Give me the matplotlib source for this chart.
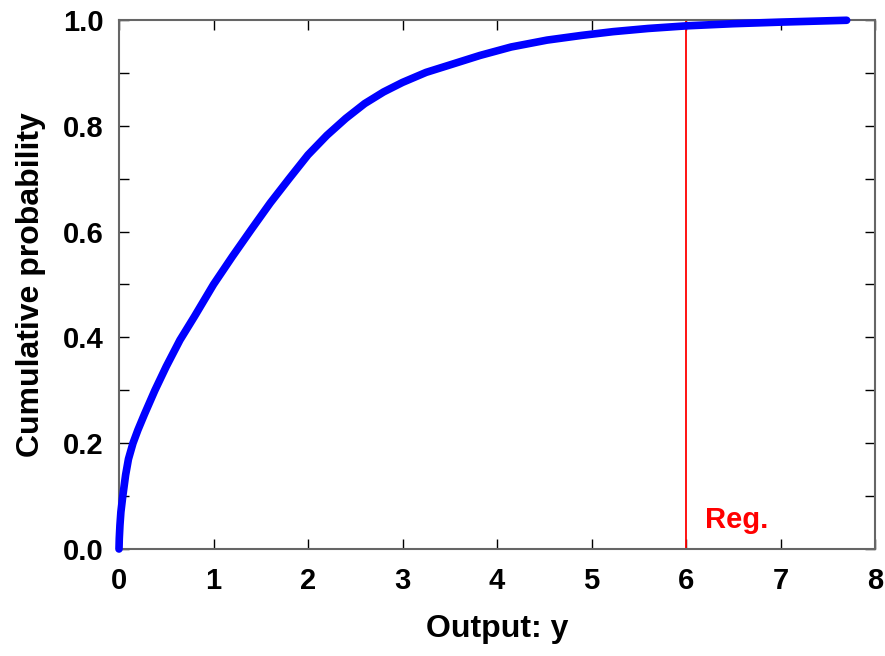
import matplotlib
matplotlib.use("Agg")
import matplotlib.pyplot as plt
from matplotlib.ticker import MultipleLocator

output_y = [0, 0.003, 0.01, 0.02, 0.04, 0.07, 0.10, 0.148, 0.20, 0.27, 0.38, 0.50,
            0.645, 0.80, 1.00, 1.20, 1.40, 1.60, 1.80, 2.00, 2.20, 2.40, 2.60, 2.80,
            3.00, 3.25, 3.50, 3.82, 4.15, 4.53, 4.90, 5.23, 5.60, 6.01, 6.50, 7.00,
            7.40, 7.70]
cum_prob = [0, 0.02, 0.045, 0.07, 0.10, 0.14, 0.17, 0.20, 0.225, 0.255, 0.30, 0.345,
            0.395, 0.44, 0.50, 0.553, 0.604, 0.654, 0.70, 0.745, 0.782, 0.814, 0.842, 0.864,
            0.882, 0.901, 0.915, 0.933, 0.949, 0.962, 0.971, 0.978, 0.984, 0.989, 0.993, 0.996,
            0.998, 0.9995]
reg_value = 6.0
reg_label = "Reg."
x_ticks = [0, 1, 2, 3, 4, 5, 6, 7, 8]
y_ticks = [0.0, 0.2, 0.4, 0.6, 0.8, 1.0]

plt.rcParams['font.family'] = ['Liberation Sans', 'DejaVu Sans']
plt.rcParams['font.weight'] = 'bold'

fig = plt.figure(figsize=(8.85, 6.56), dpi=100)
ax = fig.add_axes([119/885, 1-549/656, (875-119)/885, (549-20)/656])

ax.plot(output_y, cum_prob, color='#0000ff', lw=5.5, solid_capstyle='round',
        solid_joinstyle='round', clip_on=False, zorder=3)
ax.axvline(reg_value, color='#ff0000', lw=1.3, zorder=2)
ax.text(reg_value + 0.20, 0.039, reg_label, color='#ff0000', fontsize=21,
        fontweight='bold', ha='left', va='baseline')

ax.set_xlim(0, 8)
ax.set_ylim(0, 1)
ax.set_xticks(x_ticks)
ax.set_yticks(y_ticks)
ax.set_xticklabels([str(t) for t in x_ticks])
ax.set_yticklabels([f"{t:.1f}" for t in y_ticks])
ax.yaxis.set_minor_locator(MultipleLocator(0.1))

ax.tick_params(which='both', direction='in', top=True, right=True,
               labelsize=21, width=1.0, color='black')
ax.tick_params(which='both', length=7)
ax.tick_params(axis='x', which='both', pad=13)
ax.tick_params(axis='y', which='both', pad=11)
for t in ax.get_xticklabels() + ax.get_yticklabels():
    t.set_fontweight('bold')

for s in ax.spines.values():
    s.set_color('#666666')
    s.set_linewidth(1.5)

ax.set_xlabel("Output: y", fontsize=23, fontweight='bold', labelpad=14)
ax.set_ylabel("Cumulative probability", fontsize=23, fontweight='bold', labelpad=12)

fig.savefig("out.png", dpi=100)
